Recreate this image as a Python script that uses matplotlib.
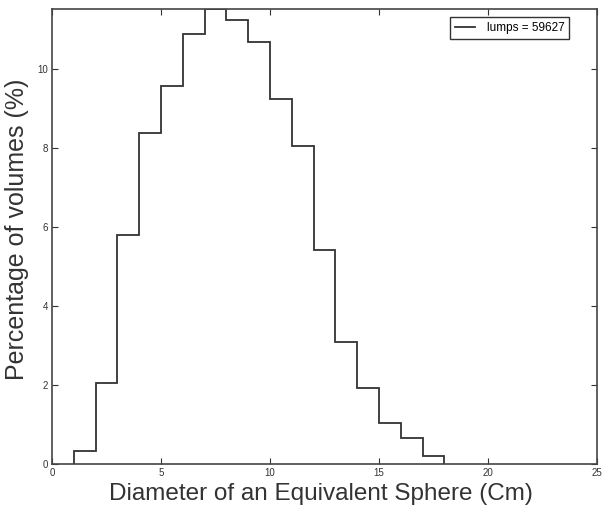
import numpy as np
import matplotlib
matplotlib.use("Agg")
import matplotlib.pyplot as plt

plt.rcParams['font.family'] = ['Liberation Sans', 'DejaVu Sans']

# histogram of lump diameters, bins of 1 cm
bin_edges = [1, 2, 3, 4, 5, 6, 7, 8, 9, 10, 11, 12, 13, 14, 15, 16, 17, 18]
pct = [0.33, 2.06, 5.78, 8.38, 9.57, 10.87, 11.5, 11.23, 10.66, 9.22,
       8.05, 5.4, 3.09, 1.93, 1.04, 0.67, 0.21]
legend_label = 'lumps = 59627'

xticks = [0, 5, 10, 15, 20, 25]
yticks = [0, 2, 4, 6, 8, 10]

fig = plt.figure(figsize=(6.03, 5.07), dpi=100)
ax = fig.add_axes([0.0862, 0.0848, 0.904, 0.897])

ax.stairs(pct, bin_edges, color='#333333', linewidth=1.3, label=legend_label,
          baseline=0)

ax.set_xlim(0, 25)
ax.set_ylim(0, max(pct))
ax.set_xticks(xticks)
ax.set_yticks(yticks)
ax.tick_params(direction='in', top=True, right=True, labelsize=7,
               length=4, width=0.8, colors='#333333', pad=3)
for s in ax.spines.values():
    s.set_color('#444444')
    s.set_linewidth(1.2)

ax.set_xlabel('Diameter of an Equivalent Sphere (Cm)', fontsize=17.5,
              color='#333333')
ax.set_ylabel('Percentage of volumes (%)', fontsize=18, color='#333333')
ax.xaxis.set_label_coords(0.494, -0.042, transform=ax.transAxes)
ax.yaxis.set_label_coords(-0.043, 0.516, transform=ax.transAxes)
ax.xaxis.label.set_va('top')

leg = ax.legend(loc='upper right', fontsize=8.5, fancybox=False,
                framealpha=1, handlelength=1.7, handletextpad=1.0,
                borderpad=0.4, borderaxespad=0,
                bbox_to_anchor=(0.9486, 0.982))
leg.get_frame().set_edgecolor('#333333')
leg.get_frame().set_linewidth(1.0)

fig.savefig('out.png', dpi=100)
